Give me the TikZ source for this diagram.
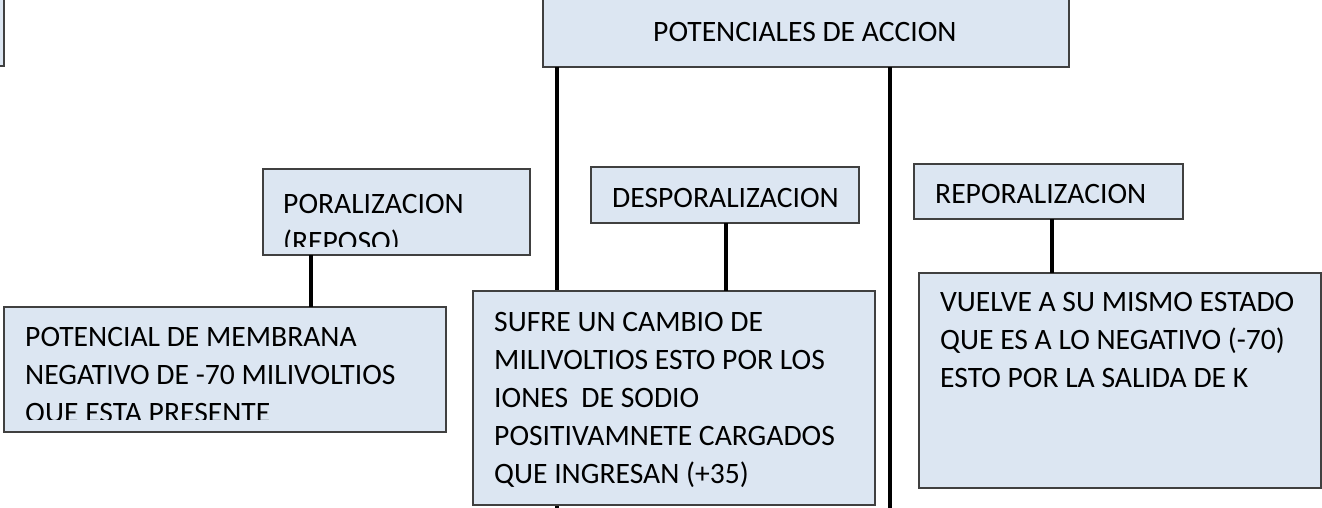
\documentclass[tikz,border=0pt]{standalone}
\usepackage{fontspec}
\setmainfont{Carlito}
\definecolor{boxfill}{RGB}{220,230,242}
\definecolor{boxline}{RGB}{64,64,64}
\tikzset{
  box/.style={draw=boxline, line width=1.8pt, fill=boxfill, rectangle, inner sep=0pt, outer sep=0pt, anchor=north west},
  conn/.style={draw=black, line width=3.6pt},
  txt/.style={font=\fontsize{29.6}{38}\selectfont, align=left, inner sep=0pt, anchor=base west, text=black},
}
\begin{document}
\begin{tikzpicture}[x=1pt,y=-1pt]
\useasboundingbox (0,0) rectangle (1322,508);
% coordinates for free ends
\coordinate (endL) at (557,508);
\coordinate (endR) at (890,508);

\node[box, minimum width=526pt, minimum height=74pt] (top) at (543,-7) {};
\node[box, minimum width=11pt, minimum height=73pt] (corner) at (-7,-7) {};

% connectors from top box
\draw[conn] (top.south -| endL) -- (endL);
\draw[conn] (top.south -| endR) -- (endR);

\node[box, minimum width=267pt, minimum height=86pt] (por) at (263,169) {};
\node[box, minimum width=442pt, minimum height=125pt] (pot) at (4,307) {};
\node[box, minimum width=268pt, minimum height=56pt] (des) at (591,167) {};
\node[box, minimum width=402pt, minimum height=214pt] (suf) at (473,291) {};
\node[box, minimum width=269pt, minimum height=55pt] (rep) at (914,164) {};
\node[box, minimum width=402pt, minimum height=215pt] (vue) at (919,273) {};

% connectors between boxes
\coordinate (c1) at (311,0);
\coordinate (c2) at (726,0);
\coordinate (c3) at (1052,0);
\draw[conn] (por.south -| c1) -- (pot.north -| c1);
\draw[conn] (des.south -| c2) -- (suf.north -| c2);
\draw[conn] (rep.south -| c3) -- (vue.north -| c3);

% texts (anchor = baseline of the last line)
\node[txt] (ttop) at (653,42) {POTENCIALES DE ACCION};
\begin{scope}
  \clip (264,170) rectangle (529,246);
  \node[txt] (tpor) at (283,251) {PORALIZACION\\(REPOSO)};
\end{scope}
\begin{scope}
  \clip (5,308) rectangle (445,419);
  \node[txt] (tpot) at (25,422) {POTENCIAL DE MEMBRANA\\NEGATIVO DE -70 MILIVOLTIOS\\QUE ESTA PRESENTE};
\end{scope}
\node[txt] (tdes) at (612,207) {DESPORALIZACION};
\node[txt] (tsuf) at (494,483) {SUFRE UN CAMBIO DE\\MILIVOLTIOS ESTO POR LOS\\IONES~ DE SODIO\\POSITIVAMNETE CARGADOS\\QUE INGRESAN (+35)};
\node[txt] (trep) at (935,203) {REPORALIZACION};
\node[txt] (tvue) at (940,387) {VUELVE A SU MISMO ESTADO\\QUE ES A LO NEGATIVO (-70)\\ESTO POR LA SALIDA DE K};
\end{tikzpicture}
\end{document}
